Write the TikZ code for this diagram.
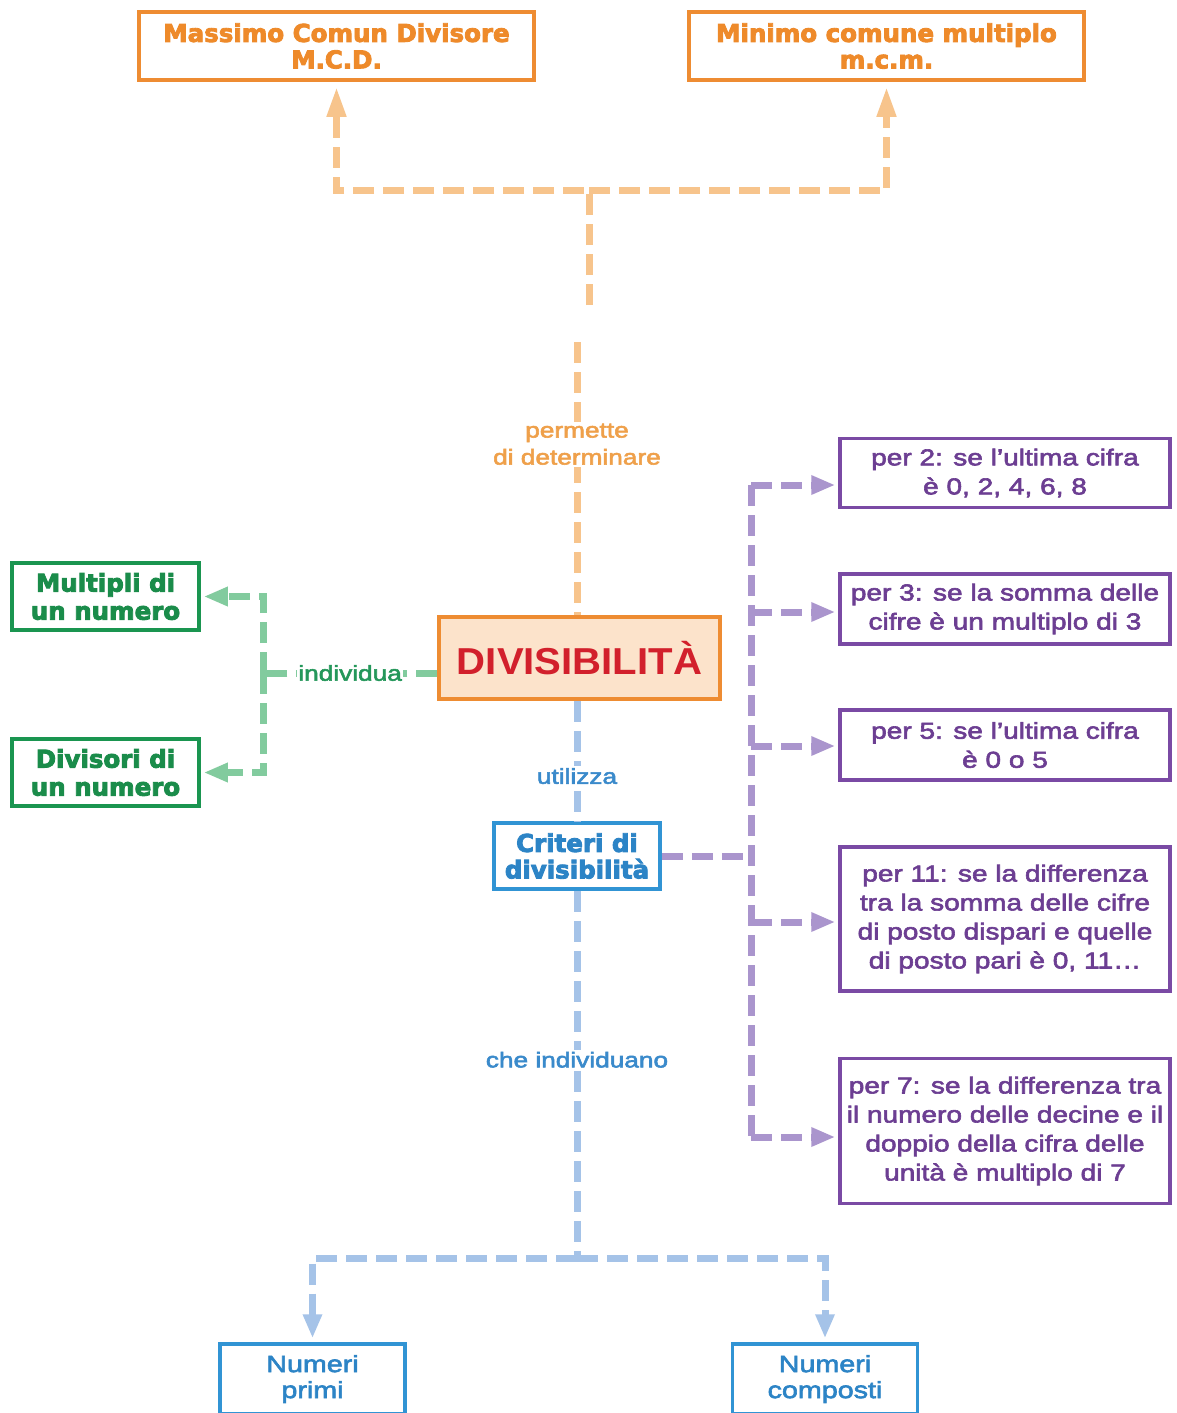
\documentclass[tikz,border=0pt]{standalone}
\usepackage{fontspec}
\usetikzlibrary{arrows.meta}
\setmainfont{Liberation Sans}
\newfontfamily\regf[FakeStretch=1.22,FakeBold=2.6]{Liberation Sans}
\newfontfamily\heavyf[FakeBold=3.5]{DejaVu Sans}
\newfontfamily\divf[FakeStretch=1.07]{Liberation Sans}
\definecolor{oBorder}{HTML}{EE8C32}
\definecolor{oText}{HTML}{EE8A2A}
\definecolor{oLine}{HTML}{F7C48C}
\definecolor{oLab}{HTML}{EFA04A}
\definecolor{peach}{HTML}{FCE3CB}
\definecolor{redT}{HTML}{D2202C}
\definecolor{gBorder}{HTML}{1A9550}
\definecolor{gText}{HTML}{1A8C4A}
\definecolor{gLine}{HTML}{82CB9E}
\definecolor{gLab}{HTML}{24975A}
\definecolor{bBorder}{HTML}{3194D4}
\definecolor{bText}{HTML}{2C84C6}
\definecolor{bLine}{HTML}{A5C3E8}
\definecolor{bLab}{HTML}{3A8ACB}
\definecolor{pBorder}{HTML}{7A4AA4}
\definecolor{pText}{HTML}{6C3E92}
\definecolor{pLine}{HTML}{AA95CD}
\begin{document}
\begin{tikzpicture}[x=1pt,y=-1pt,
  box/.style={draw, line width=3.5pt, align=center, inner sep=0pt},
  heavytxt/.style={font=\heavyf\bfseries\fontsize{24.5}{26.5}\selectfont},
  obox/.style={box, heavytxt, draw=oBorder, text=oText, minimum width=395pt, minimum height=68pt},
  gbox/.style={box, heavytxt, draw=gBorder, text=gText, minimum width=187pt, minimum height=67pt, font=\heavyf\bfseries\fontsize{24.5}{28}\selectfont},
  cbox/.style={box, heavytxt, draw=bBorder, text=bText, minimum width=166pt, minimum height=66pt},
  pbox/.style={box, draw=pBorder, text=pText, minimum width=330pt, font=\regf\fontsize{23}{29}\selectfont},
  nbox/.style={box, draw=bBorder, text=bText, minimum width=185pt, minimum height=70pt, font=\regf\fontsize{23.5}{26}\selectfont},
  conn/.style={line width=7pt, dash pattern=on 21pt off 9pt},
  oline/.style={conn, draw=oLine},
  gline/.style={conn, draw=gLine},
  bline/.style={conn, draw=bLine},
  pline/.style={conn, draw=pLine},
  tip/.style={-{Triangle[length=24pt,width=18pt]}},
  otip/.style={-{Triangle[length=30pt,width=18pt]}},
  lab/.style={fill=white, align=center, inner sep=2pt, font=\regf\fontsize{21.5}{27}\selectfont},
]
\clip (0,0) rectangle (1176,1413);
\fill[white] (0,0) rectangle (1176,1413);

% nodes
\node[obox] (mcd) at (336.5,46) {Massimo Comun Divisore\\M.C.D.};
\node[obox] (mcm) at (886.5,46) {Minimo comune multiplo\\m.c.m.};
\node[box, draw=oBorder, fill=peach, text=redT, minimum width=281pt, minimum height=82pt,
      font=\divf\bfseries\fontsize{37.5}{40}\selectfont] (div) at (579.5,658) {DIVISIBILITÀ};
\node[gbox] (mult) at (105.5,596.5) {Multipli di\\un numero};
\node[gbox] (divi) at (105.5,772.5) {Divisori di\\un numero};
\node[cbox] (crit) at (577,856) {Criteri di\\divisibilità};
\node[pbox, minimum height=69pt] (b1) at (1005,473) {per 2: se l’ultima cifra\\è 0, 2, 4, 6, 8};
\node[pbox, minimum height=70pt] (b2) at (1005,609) {per 3: se la somma delle\\cifre è un multiplo di 3};
\node[pbox, minimum height=70pt] (b3) at (1005,745) {per 5: se l’ultima cifra\\è 0 o 5};
\node[pbox, minimum height=144pt] (b4) at (1005,919) {per 11: se la differenza\\tra la somma delle cifre\\di posto dispari e quelle\\di posto pari è 0, 11…};
\node[pbox, minimum height=145pt] (b5) at (1005,1131) {per 7: se la differenza tra\\il numero delle decine e il\\doppio della cifra delle\\unità è multiplo di 7};
\node[nbox] (prim) at (312.5,1379) {Numeri\\primi};
\node[nbox] (comp) at (825,1379) {Numeri\\composti};

% orange connectors
\coordinate (ot) at (589,305);
\coordinate (oh) at (589,190);
\draw[oline, otip, shorten >=5pt] (ot) -- (oh) -| (mcd.south);
\draw[oline, otip, shorten >=5pt] (oh) -| (mcm.south);
\coordinate (ob) at (577,342);
\draw[oline] (ob) -- node[pos=0.374, lab, text=oLab] {permette\\di determinare} (ob |- div.north);

% green connectors
\coordinate (gj) at (263,673);
\draw[gline] (div.west |- gj) -- node[lab, text=gLab, inner sep=1pt] {individua} (gj);
\draw[gline, tip, shorten >=3pt] (gj) |- (mult.east);
\draw[gline, tip, shorten >=3pt] (gj) |- (divi.east);

% blue connectors
\draw[bline] (div.south -| crit.north) -- node[pos=0.625, lab, text=bLab] {utilizza} (crit.north);
\coordinate (bj) at (577,1258);
\draw[bline] (crit.south) -- node[pos=0.46, lab, text=bLab] {che individuano} (bj);
\draw[bline, tip, shorten >=4pt] (bj) -| (prim.north);
\draw[bline, tip, shorten >=4pt] (bj) -| (comp.north);

% purple connectors
\coordinate (pj) at (751,856);
\coordinate (p1) at (751,485);
\coordinate (p2) at (751,612);
\coordinate (p3) at (751,746);
\coordinate (p4) at (751,922);
\coordinate (p5) at (751,1137);
\draw[pline] (crit.east) -- (pj);
\draw[pline] (p1) -- (p5);
\draw[pline, tip, shorten >=3pt] (p1) -- (p1 -| b1.west);
\draw[pline, tip, shorten >=3pt] (p2) -- (p2 -| b2.west);
\draw[pline, tip, shorten >=3pt] (p3) -- (p3 -| b3.west);
\draw[pline, tip, shorten >=3pt] (p4) -- (p4 -| b4.west);
\draw[pline, tip, shorten >=3pt] (p5) -- (p5 -| b5.west);
\end{tikzpicture}
\end{document}
